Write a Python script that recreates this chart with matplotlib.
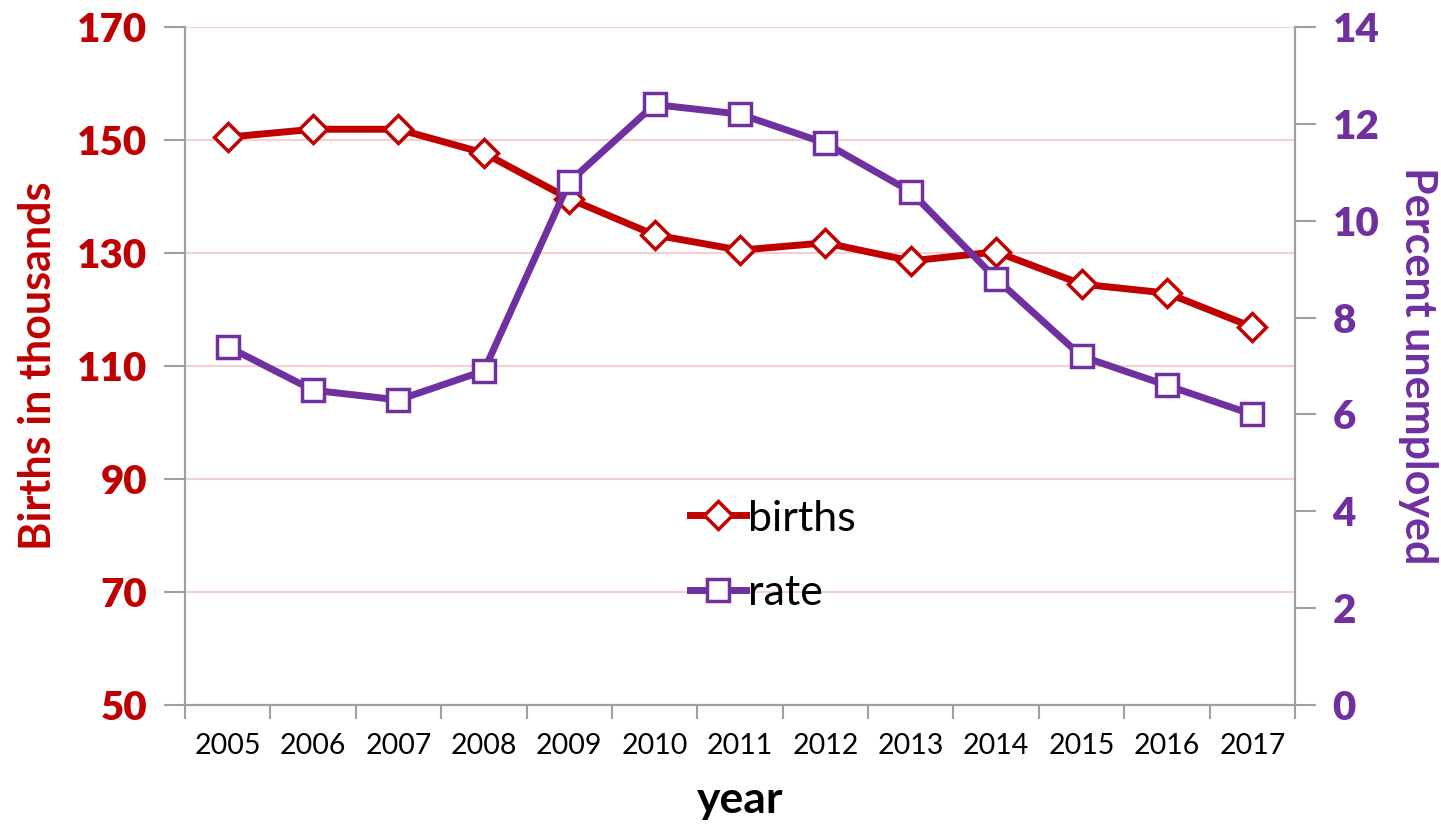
import matplotlib
matplotlib.use("Agg")
import matplotlib.pyplot as plt
import numpy as np

years = ["2005", "2006", "2007", "2008", "2009", "2010", "2011", "2012",
         "2013", "2014", "2015", "2016", "2017"]
births = [150.5, 151.9, 151.9, 147.7, 139.6, 133.2, 130.5, 131.8,
          128.6, 130.2, 124.5, 122.9, 116.9]
rate = [7.4, 6.5, 6.3, 6.9, 10.8, 12.4, 12.2, 11.6, 10.6, 8.8, 7.2, 6.6, 6.0]
left_ticks = [50, 70, 90, 110, 130, 150, 170]
right_ticks = [0, 2, 4, 6, 8, 10, 12, 14]

RED = "#C00000"
PURPLE = "#7030A0"
GRID = "#F5D0D0"
SPINE = "#A0A0A0"

plt.rcParams['font.family'] = ['Lato', 'DejaVu Sans']

fig = plt.figure(figsize=(14.41, 8.25), dpi=100)
ax = fig.add_axes([185/1441, 1-705/825, 1110/1441, 678/825])
ax2 = ax.twinx()

x = np.arange(len(years))
ax.plot(x, births, color=RED, lw=5, marker='D', ms=14, mfc='white',
        mec=RED, mew=2.5, zorder=3, label='births')
ax2.plot(x, rate, color=PURPLE, lw=5, marker='s', ms=16, mfc='white',
         mec=PURPLE, mew=2.5, zorder=3, label='rate')

ax.set_xlim(-0.5, len(years) - 0.5)
ax.set_ylim(50, 170)
ax2.set_ylim(0, 14)
ax.set_yticks(left_ticks)
ax2.set_yticks(right_ticks)

ax.set_xticks(np.arange(-0.5, len(years), 1.0))
ax.set_xticklabels([])
ax.set_xticks(x, minor=True)
ax.set_xticklabels(years, minor=True, fontsize=20.5)
ax.tick_params(axis='x', which='major', length=10, width=1.5, color=SPINE, direction='out')
ax.tick_params(axis='x', which='minor', length=0, pad=20)

ax.tick_params(axis='y', length=15, width=1.5, color=SPINE, labelsize=29,
               labelcolor=RED, pad=12)
for t in ax.get_yticklabels():
    t.set_fontweight('heavy')
ax2.tick_params(axis='y', length=15, width=1.5, color=SPINE, labelsize=29,
                labelcolor=PURPLE, pad=12)
for t in ax2.get_yticklabels():
    t.set_fontweight('heavy')

ax.grid(axis='y', color=GRID, lw=1.5)
ax.set_axisbelow(True)

for a in (ax, ax2):
    a.spines['top'].set_visible(False)
    for s in ('left', 'right', 'bottom'):
        a.spines[s].set_color(SPINE)
        a.spines[s].set_linewidth(1.5)

ax.set_ylabel("Births in thousands", color=RED, fontsize=31, fontweight='bold', labelpad=14)
ax2.set_ylabel("Percent unemployed", color=PURPLE, fontsize=31, fontweight='bold',
               rotation=270, labelpad=42)
ax.set_xlabel("year", fontsize=32, fontweight='bold', labelpad=15)

h1, l1 = ax.get_legend_handles_labels()
h2, l2 = ax2.get_legend_handles_labels()
ax2.legend(h1 + h2, l1 + l2, loc='center', bbox_to_anchor=(0.53, 0.22),
           frameon=False, fontsize=31, handlelength=1.3, handletextpad=0.05,
           labelspacing=0.85, borderpad=0)

fig.savefig("out.png", dpi=100)
